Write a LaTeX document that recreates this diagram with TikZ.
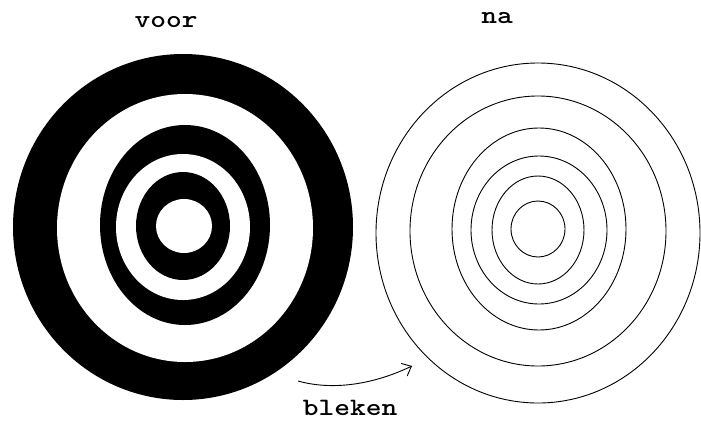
\documentclass[tikz,border=0pt]{standalone}
\usepackage{fontspec}
\usepackage{tikz}
\usetikzlibrary{arrows.meta}
\newfontfamily\monofont[FakeStretch=1.2]{Latin Modern Mono Light}
\newcommand{\lblfont}{\monofont\bfseries\fontsize{25}{25}\selectfont}

\begin{document}
\begin{tikzpicture}[x=1pt, y=-1pt, every node/.style={font=\lblfont, inner sep=0pt, anchor=base}]
\useasboundingbox[fill=white] (0,0) rectangle (701,421);
% --- before: filled target ---
\fill[black] (183,227) ellipse (170 and 173);
\fill[white] (185,228) ellipse (128 and 134);
\fill[black] (185,225) ellipse (85 and 100);
\fill[white] (183,227) ellipse (67 and 73);
\fill[black] (183,226) ellipse (47 and 54);
\fill[white] (184,226) ellipse (28 and 27);
\node (voor) at (166,27) {voor};
% --- after: bleached rings ---
\begin{scope}[line width=0.9pt]
  \draw (538,233) ellipse (162 and 170);
  \draw (538,231) ellipse (128 and 135);
  \draw (539,229) ellipse (87 and 101);
  \draw (539,230) ellipse (68 and 74);
  \draw (538,230) ellipse (46 and 54);
  \draw (538,229) ellipse (27 and 28);
\end{scope}
\node (na) at (497,23) {na};
% --- bleaching step ---
\coordinate (from) at (298,381);
\coordinate (to)   at (412,366);
\draw[-{Straight Barb[length=8pt,width=14pt]}, line width=0.9pt]
  (from) .. controls (330,390) and (370,386) .. (to);
\node (bleken) at (350,415) {bleken};
\end{tikzpicture}
\end{document}
